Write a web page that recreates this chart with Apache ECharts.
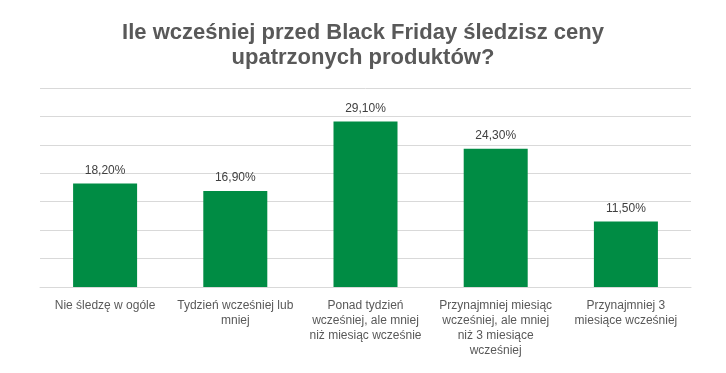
<!DOCTYPE html>
<html>
<head>
<meta charset="utf-8">
<script src="https://cdn.jsdelivr.net/npm/echarts@6/dist/echarts.min.js"></script>
<style>html,body{margin:0;padding:0;background:#fff}#c{width:726px;height:373px}</style>
</head>
<body>
<div id="c"></div>
<script>
const titleText = 'Ile wcześniej przed Black Friday śledzisz ceny\nupatrzonych produktów?';
const categories = ['Nie śledzę w ogóle', 'Tydzień wcześniej lub mniej', 'Ponad tydzień wcześniej, ale mniej niż miesiąc wcześnie', 'Przynajmniej miesiąc wcześniej, ale mniej niż 3 miesiące wcześniej', 'Przynajmniej 3 miesiące wcześniej'];
const wrappedLabels = ['Nie śledzę w ogóle', 'Tydzień wcześniej lub\nmniej', 'Ponad tydzień\nwcześniej, ale mniej\nniż miesiąc wcześnie', 'Przynajmniej miesiąc\nwcześniej, ale mniej\nniż 3 miesiące\nwcześniej', 'Przynajmniej 3\nmiesiące wcześniej'];
const values = [18.2, 16.9, 29.1, 24.3, 11.5];
const yTicks = [0, 5, 10, 15, 20, 25, 30, 35];

const chart = echarts.init(document.getElementById('c'));
chart.setOption({
  animation: false,
  title: {
    text: titleText,
    left: 'center',
    top: 15,
    padding: [5, 5, 5, 13],
    textStyle: {fontFamily: 'Liberation Sans', fontSize: 22, fontWeight: 'bold', color: '#595959', lineHeight: 25}
  },
  grid: {left: 40, right: 35, top: 88, bottom: 86},
  xAxis: {
    type: 'category',
    data: categories,
    axisLine: {lineStyle: {color: '#d9d9d9'}},
    axisTick: {show: false},
    axisLabel: {
      interval: 0,
      margin: 11,
      fontFamily: 'Liberation Sans',
      fontSize: 12,
      color: '#595959',
      lineHeight: 15,
      formatter: (v, i) => wrappedLabels[i]
    }
  },
  yAxis: {
    type: 'value',
    min: yTicks[0],
    max: yTicks[yTicks.length - 1],
    interval: 5,
    axisLabel: {show: false},
    axisLine: {show: false},
    axisTick: {show: false},
    splitLine: {lineStyle: {color: '#d9d9d9'}}
  },
  series: [{
    type: 'bar',
    data: values,
    barWidth: 64,
    itemStyle: {color: '#008C44'},
    label: {
      show: true,
      position: 'top',
      distance: 7,
      fontFamily: 'Liberation Sans',
      fontSize: 12,
      color: '#404040',
      formatter: p => p.value.toFixed(2).replace('.', ',') + '%'
    }
  }]
});
</script>
</body>
</html>
